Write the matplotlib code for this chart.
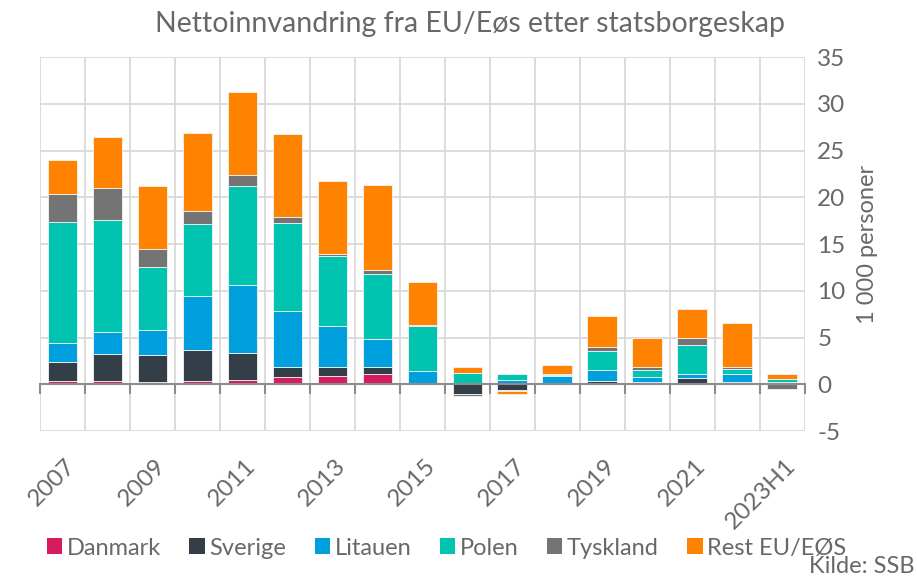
import numpy as np
import matplotlib
matplotlib.use('Agg')
import matplotlib.pyplot as plt
import matplotlib.transforms as mtransforms
from matplotlib.patches import Patch

plt.rcParams['font.family'] = ['Lato', 'DejaVu Sans']
plt.rcParams['axes.unicode_minus'] = False

years = ['2007', '2008', '2009', '2010', '2011', '2012', '2013', '2014', '2015',
         '2016', '2017', '2018', '2019', '2020', '2021', '2022', '2023H1']

danmark = [0.3, 0.3, 0.2, 0.4, 0.5, 0.75, 0.85, 1.05, 0.05, 0.05, 0.0, 0.1, 0.05, 0.0, 0.1, 0.25, 0.0]
sverige = [2.1, 2.95, 2.95, 3.25, 2.85, 1.05, 1.05, 0.8, 0.05, -1.0, -0.6, 0.0, 0.25, 0.25, 0.55, 0.0, 0.0]
litauen = [2.05, 2.35, 2.65, 5.75, 7.25, 6.05, 4.35, 3.0, 1.3, 0.0, 0.5, 0.75, 1.2, 0.55, 0.45, 0.8, 0.25]
polen = [12.95, 12.0, 6.8, 7.7, 10.6, 9.4, 7.45, 6.95, 4.8, 1.15, 0.65, 0.15, 2.1, 0.75, 3.05, 0.6, 0.3]
tyskland = [3.0, 3.45, 1.9, 1.45, 1.2, 0.65, 0.2, 0.4, 0.1, -0.25, -0.1, 0.15, 0.4, 0.35, 0.8, 0.15, -0.5]
rest = [3.6, 5.45, 6.7, 8.3, 8.9, 8.85, 7.8, 9.15, 4.6, 0.7, -0.35, 0.9, 3.35, 3.1, 3.15, 4.8, 0.55]

series = [('Danmark', danmark, '#d81b5e'),
          ('Sverige', sverige, '#343e48'),
          ('Litauen', litauen, '#00a0df'),
          ('Polen', polen, '#00c3b0'),
          ('Tyskland', tyskland, '#747474'),
          ('Rest EU/EØS', rest, '#ff8300')]

txt = '#686868'
grid = '#d9d9d9'

fig = plt.figure(figsize=(9.17, 5.77), dpi=100)
ax = fig.add_axes([0.0436, 0.253, 0.834, 0.648])

x = np.arange(len(years))
pos = np.zeros(len(years))
neg = np.zeros(len(years))
for name, vals, col in series:
    v = np.array(vals)
    bottom = np.where(v >= 0, pos, neg)
    ax.bar(x, v, bottom=bottom, width=0.66, color=col, edgecolor='#f4f4f4',
           linewidth=0.6, zorder=3)
    pos += np.where(v >= 0, v, 0)
    neg += np.where(v < 0, v, 0)

ax.set_xlim(-0.5, len(years) - 0.5)
ax.set_ylim(-5, 35)
ax.set_yticks(range(-5, 36, 5))
ax.yaxis.tick_right()
ax.yaxis.set_label_position('right')
ax.tick_params(axis='y', length=0, pad=9, labelsize=17.5, labelcolor=txt)
ax.set_ylabel('1 000 personer', fontsize=17, color=txt, labelpad=8)

# category boundaries: grid lines + tick marks on the zero line
ax.set_xticks(np.arange(-0.5, len(years), 1))
ax.set_xticklabels([])
ax.tick_params(axis='x', length=7, width=1.5, color='#8c8c8c', direction='out')
ax.grid(axis='x', color=grid, lw=1.3, zorder=0)
ax.grid(axis='y', color=grid, lw=1.3, zorder=0)

for s in ['top', 'right', 'left']:
    ax.spines[s].set_visible(False)
ax.spines['bottom'].set_position(('data', 0))
ax.spines['bottom'].set_color('#8c8c8c')
ax.spines['bottom'].set_linewidth(1.5)
ax.spines['bottom'].set_zorder(4)

trans = mtransforms.blended_transform_factory(ax.transData, ax.transAxes)
for i in range(0, len(years), 2):
    ax.text(i + 0.05, -0.065, years[i], transform=trans, rotation=45, ha='right',
            va='top', rotation_mode='anchor', fontsize=17.5, color=txt)

fig.text(0.512, 0.958, 'Nettoinnvandring fra EU/Eøs etter statsborgeskap',
         ha='center', va='center', fontsize=20.5, color=txt)

handles = [Patch(facecolor=c, label=n) for n, _, c in series]
fig.legend(handles=handles, loc='center', bbox_to_anchor=(0.487, 0.05), ncol=6,
           frameon=False, fontsize=17, handlelength=0.65, handleheight=0.65,
           handletextpad=0.2, columnspacing=1.2, labelcolor=txt)
fig.text(0.997, 0.018, 'Kilde: SSB', ha='right', va='center', fontsize=17, color=txt)

fig.savefig('out.png', dpi=100)
